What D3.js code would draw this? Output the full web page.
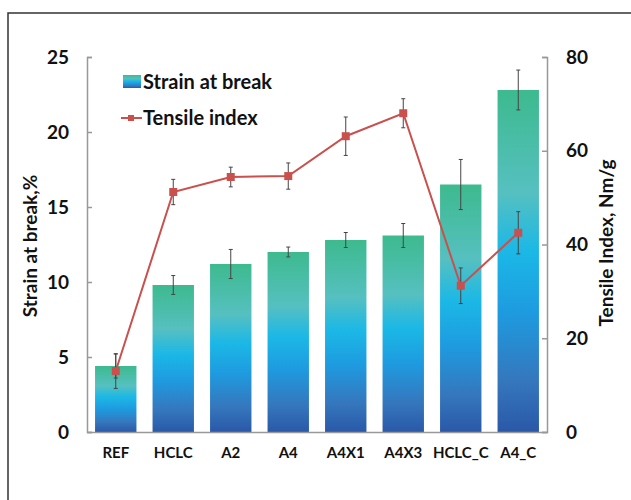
<!DOCTYPE html>
<html>
<head>
<meta charset="utf-8">
<script src="https://cdn.jsdelivr.net/npm/d3@7"></script>
<style>
  body{margin:0;background:#fff;}
  text{font-family:Lato,"Open Sans",sans-serif;font-weight:bold;fill:#111;}
</style>
</head>
<body>
<svg id="chart"></svg>
<script>
var categories = ["REF","HCLC","A2","A4","A4X1","A4X3","HCLC_C","A4_C"];
var strain     = [4.4, 9.8, 11.2, 12.0, 12.8, 13.1, 16.5, 22.8];
var strainErr  = [0.8, 0.63, 0.97, 0.33, 0.5, 0.8, 1.67, 1.33];
var tensile    = [13.0, 51.2, 54.4, 54.6, 63.1, 68.0, 31.2, 42.5];
var tensileErr = [3.7, 2.7, 2.1, 2.8, 4.1, 3.1, 3.8, 4.5];
var leftTicks  = [0,5,10,15,20,25];
var rightTicks = [0,20,40,60,80];

var width=631, height=500;
var margin={top:57,bot:68,left:87,right:84};

var svg=d3.select("#chart").attr("width",width).attr("height",height);

// frame (left and top edges visible)
svg.append("path")
   .attr("d","M8,"+height+"V13H"+width)
   .attr("fill","none").attr("stroke","#333").attr("stroke-width",1.5);

var xScale=d3.scaleBand()
             .domain(categories)
             .range([margin.left,width-margin.right])
             .paddingInner(0.28).paddingOuter(0.14);
var yLeft=d3.scaleLinear().domain([0,25]).range([height-margin.bot,margin.top]);
var yRight=d3.scaleLinear().domain([0,80]).range([height-margin.bot,margin.top]);

// gradient per bar
var grad=svg.append("defs").append("linearGradient")
            .attr("id","barGrad").attr("x1",0).attr("y1",0).attr("x2",0).attr("y2",1);
[[0,"#3dba8e"],[0.3,"#56c0c0"],[0.47,"#1bb8e6"],[0.65,"#1e9be0"],[0.85,"#3577bd"],[1,"#2a58a8"]]
  .forEach(function(s){grad.append("stop").attr("offset",s[0]).attr("stop-color",s[1]);});

svg.selectAll("rect.bar").data(strain).enter().append("rect")
   .attr("class","bar")
   .attr("x",function(d,i){return xScale(categories[i]);})
   .attr("y",function(d){return yLeft(d);})
   .attr("width",xScale.bandwidth())
   .attr("height",function(d){return yLeft(0)-yLeft(d);})
   .attr("fill","url(#barGrad)");

// axes
var axisColor="#999";
var gL=svg.append("g").attr("transform","translate("+margin.left+",0)")
          .call(d3.axisRight(yLeft).tickValues(leftTicks).tickSize(5).tickFormat(""));
var gR=svg.append("g").attr("transform","translate("+(width-margin.right)+",0)")
          .call(d3.axisLeft(yRight).tickValues(rightTicks).tickSize(5).tickFormat(""));
var gX=svg.append("g").attr("transform","translate(0,"+(height-margin.bot)+")")
          .call(d3.axisBottom(xScale).tickSize(0).tickPadding(15));
[gL,gR,gX].forEach(function(g){
  g.selectAll("path,line").attr("stroke",axisColor).attr("stroke-width",1.5);
});
gX.selectAll("text").attr("font-size",15).attr("font-family","Lato,sans-serif").attr("font-weight","bold").attr("fill","#111");

svg.selectAll("text.lt").data(leftTicks).enter().append("text")
   .attr("class","lt").attr("x",69).attr("y",function(d){return yLeft(d);})
   .attr("dy","0.35em").attr("text-anchor","end").attr("font-size",19)
   .text(function(d){return d;});
svg.selectAll("text.rt").data(rightTicks).enter().append("text")
   .attr("class","rt").attr("x",566).attr("y",function(d){return yRight(d);})
   .attr("dy","0.35em").attr("text-anchor","start").attr("font-size",19)
   .text(function(d){return d;});

svg.append("text").attr("transform","translate(37,246) rotate(-90)")
   .attr("text-anchor","middle").attr("font-size",19).text("Strain at break,%");
svg.append("text").attr("transform","translate(613,243) rotate(-90)")
   .attr("text-anchor","middle").attr("font-size",19).text("Tensile Index, Nm/g");

// error bars helper
function errBars(vals,errs,scale,cls){
  var cx=function(i){return xScale(categories[i])+xScale.bandwidth()/2;};
  var g=svg.append("g").attr("class",cls).attr("stroke","#444").attr("stroke-width",1);
  vals.forEach(function(v,i){
    var x=cx(i), y1=scale(v+errs[i]), y2=scale(v-errs[i]);
    g.append("line").attr("x1",x).attr("x2",x).attr("y1",y1).attr("y2",y2);
    g.append("line").attr("x1",x-2).attr("x2",x+2).attr("y1",y1).attr("y2",y1);
    g.append("line").attr("x1",x-2).attr("x2",x+2).attr("y1",y2).attr("y2",y2);
  });
}
errBars(strain,strainErr,yLeft,"errS");

// tensile line
var lineMaker=d3.line()
                .x(function(d,i){return xScale(categories[i])+xScale.bandwidth()/2;})
                .y(function(d){return yRight(d);});
svg.append("path").attr("d",lineMaker(tensile))
   .attr("fill","none").attr("stroke","#c9504d").attr("stroke-width",2);
errBars(tensile,tensileErr,yRight,"errT");
svg.selectAll("rect.mk").data(tensile).enter().append("rect")
   .attr("class","mk")
   .attr("x",function(d,i){return xScale(categories[i])+xScale.bandwidth()/2-4;})
   .attr("y",function(d){return yRight(d)-4;})
   .attr("width",8).attr("height",8).attr("fill","#c9504d");

// legend
var lg=svg.append("g");
lg.append("rect").attr("x",123).attr("y",75).attr("width",18).attr("height",13).attr("fill","url(#barGrad)");
lg.append("text").attr("x",143).attr("y",82).attr("dy","0.35em").attr("font-size",20).text("Strain at break");
lg.append("line").attr("x1",121).attr("x2",142).attr("y1",118).attr("y2",118)
  .attr("stroke","#c9504d").attr("stroke-width",2);
lg.append("rect").attr("x",128).attr("y",115).attr("width",6).attr("height",6).attr("fill","#c9504d");
lg.append("text").attr("x",143).attr("y",118).attr("dy","0.35em").attr("font-size",20).text("Tensile index");
</script>
</body>
</html>
